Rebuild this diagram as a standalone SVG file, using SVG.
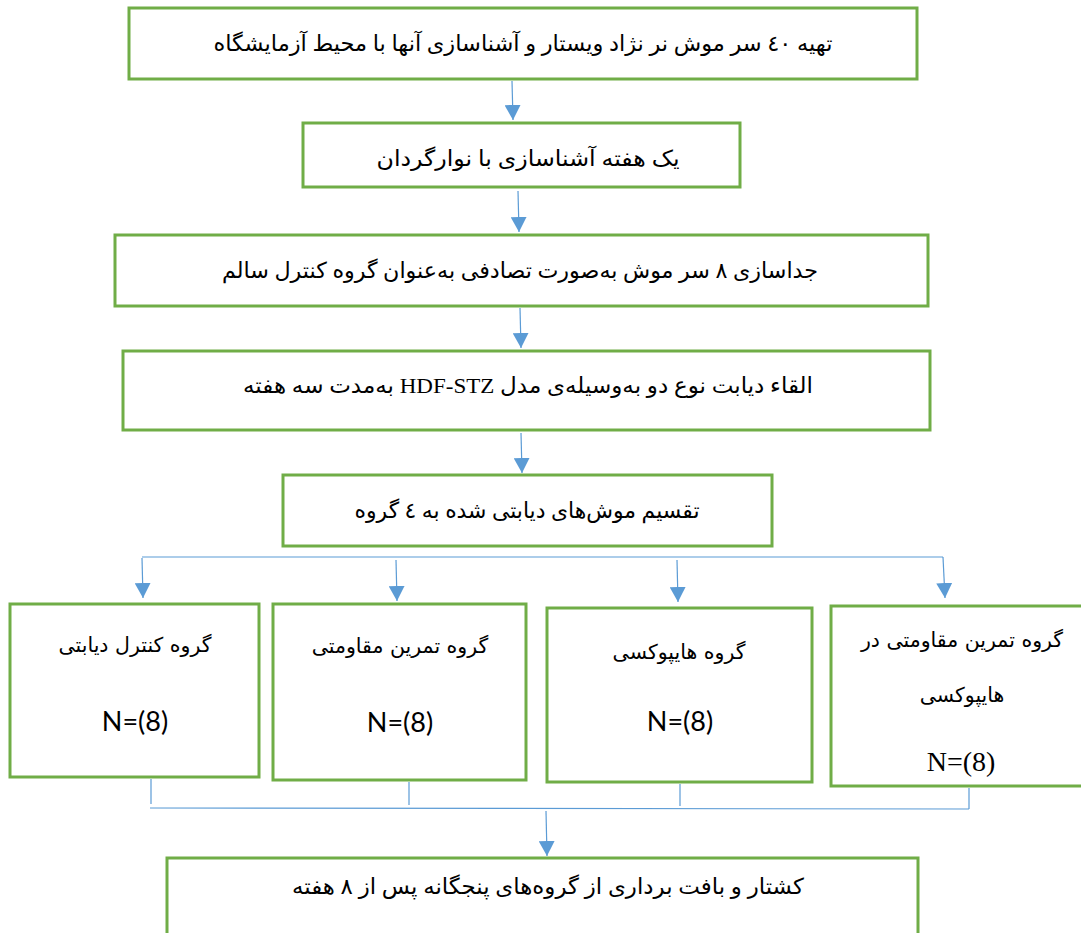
<svg xmlns="http://www.w3.org/2000/svg" width="1081" height="933" viewBox="0 0 1081 933">
<style>
.box{fill:#ffffff;stroke:#70AD47;stroke-width:3}
.fa{font-family:"Liberation Serif","DejaVu Serif","DejaVu Sans",serif;font-size:22px;fill:#000;text-anchor:middle}
.fs{font-family:"DejaVu Sans","Liberation Sans",sans-serif;font-size:20.5px;fill:#000;text-anchor:middle}
.n{font-family:Lato,"Liberation Sans",sans-serif;font-size:27px;fill:#000;text-anchor:middle}
.nt{font-family:"Liberation Serif",serif;font-size:28px;fill:#000;text-anchor:middle}
.c{fill:none;stroke:#5B9BD5;stroke-width:1.2}
.a{fill:none;stroke:#5B9BD5;stroke-width:1.2;marker-end:url(#arr)}
</style>
<defs>
<marker id="arr" markerUnits="userSpaceOnUse" markerWidth="16" markerHeight="16" refX="15" refY="8" orient="auto">
<path d="M0,0 L15,8 L0,16 Z" fill="#5B9BD5"/>
</marker>
</defs>
<rect width="1081" height="933" fill="#ffffff"/>
<g id="connectors">
<line class="a" x1="512" y1="81" x2="513" y2="120"/>
<line class="a" x1="518" y1="191" x2="519" y2="232"/>
<line class="a" x1="520" y1="308" x2="521" y2="348"/>
<line class="a" x1="521" y1="433" x2="522" y2="473"/>
<polyline class="c" points="142,557 943,557"/>
<line class="a" x1="142" y1="558" x2="143" y2="598"/>
<line class="a" x1="396" y1="560" x2="397" y2="601"/>
<line class="a" x1="677" y1="560" x2="678" y2="602"/>
<line class="a" x1="943" y1="557" x2="945" y2="598"/>
<line class="c" x1="151" y1="779" x2="151" y2="804"/>
<line class="c" x1="409" y1="782" x2="409" y2="805"/>
<line class="c" x1="680" y1="784" x2="680" y2="806"/>
<line class="c" x1="969" y1="788" x2="969" y2="809"/>
<polyline class="c" points="150,808 969,809"/>
<line class="a" x1="546" y1="811" x2="547" y2="856"/>
</g>
<g id="n1">
<rect class="box" x="129" y="8" width="788" height="71"/>
<text class="fa" x="523" y="51" direction="rtl" textLength="619" lengthAdjust="spacingAndGlyphs">تهیه ٤٠ سر موش نر نژاد ویستار و آشناسازی آنها با محیط آزمایشگاه</text>
</g>
<g id="n2">
<rect class="box" x="303" y="123" width="437" height="64"/>
<text class="fa" x="528" y="166" direction="rtl" textLength="303" lengthAdjust="spacingAndGlyphs">یک هفته آشناسازی با نوارگردان</text>
</g>
<g id="n3">
<rect class="box" x="115" y="235" width="813" height="71"/>
<text class="fa" x="520" y="278" direction="rtl" textLength="596" lengthAdjust="spacingAndGlyphs">جداسازی ۸ سر موش به‌صورت تصادفی به‌عنوان گروه کنترل سالم</text>
</g>
<g id="n4">
<rect class="box" x="123" y="351" width="807" height="79"/>
<text class="fa" x="528" y="393" direction="rtl" textLength="570" lengthAdjust="spacingAndGlyphs">القاء دیابت نوع دو به‌وسیله‌ی مدل HDF-STZ به‌مدت سه هفته</text>
</g>
<g id="n5">
<rect class="box" x="283" y="475" width="489" height="71"/>
<text class="fa" x="527" y="518" direction="rtl" textLength="345" lengthAdjust="spacingAndGlyphs">تقسیم موش‌های دیابتی شده به ٤ گروه</text>
</g>
<g id="n6">
<rect class="box" x="10" y="604" width="249" height="173"/>
<text class="fs" x="135" y="652" direction="rtl">گروه کنترل دیابتی</text>
<text class="n" x="135" y="731">N=(8)</text>
</g>
<g id="n7">
<rect class="box" x="273" y="604" width="253" height="176"/>
<text class="fs" x="400" y="653" direction="rtl">گروه تمرین مقاومتی</text>
<text class="n" x="400" y="732">N=(8)</text>
</g>
<g id="n8">
<rect class="box" x="547" y="608" width="265" height="174"/>
<text class="fs" x="679" y="659" direction="rtl">گروه هایپوکسی</text>
<text class="n" x="680" y="731">N=(8)</text>
</g>
<g id="n9">
<rect class="box" x="831" y="606" width="262" height="180"/>
<text class="fs" x="962" y="647" direction="rtl">گروه تمرین مقاومتی در</text>
<text class="fs" x="962" y="702" direction="rtl">هایپوکسی</text>
<text class="nt" x="961" y="771">N=(8)</text>
</g>
<g id="n10">
<rect class="box" x="167" y="858" width="751" height="90"/>
<text class="fa" x="548" y="894" direction="rtl" textLength="512" lengthAdjust="spacingAndGlyphs">کشتار و بافت برداری از گروه‌های پنجگانه پس از ۸ هفته</text>
</g>
</svg>
